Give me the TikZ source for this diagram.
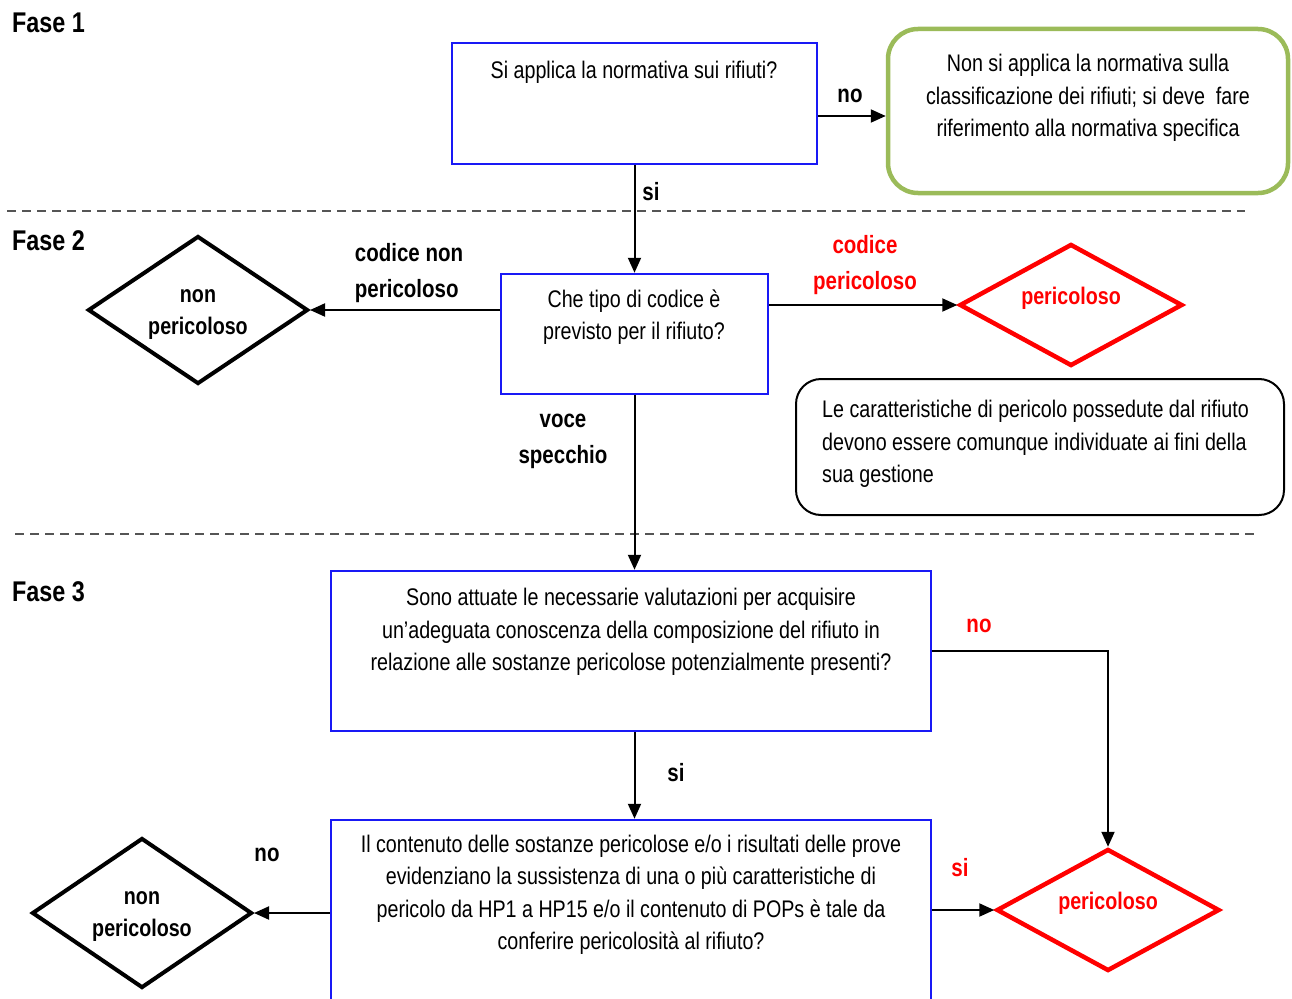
\documentclass[tikz,border=0pt]{standalone}
\usepackage{fontspec}
\setmainfont{Liberation Sans}[FakeStretch=0.82]
\usetikzlibrary{arrows.meta,shapes.geometric}
\definecolor{boxblue}{RGB}{25,25,245}
\definecolor{leaf}{RGB}{155,187,89}
\definecolor{redc}{RGB}{255,0,0}
\definecolor{dashgray}{RGB}{85,85,85}
\begin{document}
\begin{tikzpicture}[x=1pt,y=-1pt,
  qbox/.style={draw=boxblue,line width=2.5pt,rectangle,inner sep=0pt},
  txt/.style={font=\fontsize{24}{32.5}\selectfont,align=center,inner sep=0pt,text=black},
  lbl/.style={font=\bfseries\fontsize{25}{36}\selectfont,align=center,inner sep=0pt},
  dlbl/.style={font=\bfseries\fontsize{24}{32}\selectfont,align=center,inner sep=0pt},
  fase/.style={font=\bfseries\fontsize{28.5}{32}\selectfont,inner sep=0pt,anchor=west},
  blackdia/.style={diamond,draw=black,line width=4pt,inner sep=0pt},
  reddia/.style={diamond,draw=redc,line width=4.5pt,inner sep=0pt},
  arr/.style={draw=black,line width=2pt,-{Triangle[length=15pt,width=13pt]}},
  sep/.style={draw=dashgray,line width=2pt,dash pattern=on 9pt off 6pt}
]
\useasboundingbox (0,0) rectangle (1292,998);
\clip (0,0) rectangle (1292,998);

% phase labels
\node[fase] (f1) at (12,23) {Fase 1};
\node[fase] (f2) at (12,241) {Fase 2};
\node[fase] (f3) at (12,592) {Fase 3};

% separators
\draw[sep] (7,211) -- (1245,211);
\draw[sep] (15,534) -- (1255,534);

% Fase 1
\node[qbox,minimum width=365pt,minimum height=121pt] (b1) at (634.5,103.5) {};
\node[txt] (t1) at (634,72) {Si applica la normativa sui rifiuti?};
\node[draw=leaf,line width=4.5pt,rounded corners=30pt,minimum width=400pt,minimum height=164pt,inner sep=0pt] (g) at (1088,111) {};
\node[txt] (tg) at (1088,98) {Non si applica la normativa sulla\\classificazione dei rifiuti; si deve~ fare\\riferimento alla normativa specifica};
\coordinate (ny) at (0,116);
\draw[arr] (b1.east |- ny) -- (g.west |- ny);
\node[lbl] (lno1) at (850,96) {no};

% Fase 2
\node[qbox,minimum width=267pt,minimum height=120pt] (b2) at (634.5,334) {};
\node[txt] (t2) at (634,317) {Che tipo di codice è\\previsto per il rifiuto?};
\draw[arr] (b1.south) -- (b2.north);
\node[lbl] (lsi1) at (651,192) {si};

\node[blackdia,minimum width=220pt,minimum height=148pt] (nd1) at (198,310) {};
\node[dlbl] (tnd1) at (198,315) {non\\pericoloso};
\draw[arr] (b2.west |- nd1.east) -- (nd1.east);
\node[lbl,align=left] (lcnp) at (409,273) {codice non\\pericoloso};

\node[reddia,minimum width=223pt,minimum height=122pt] (pd1) at (1071,305) {};
\node[dlbl,text=redc] (tpd1) at (1071,298) {pericoloso};
\draw[arr] (b2.east |- pd1.west) -- (pd1.west);
\node[lbl,text=redc] (lcp) at (865,265) {codice\\pericoloso};

\node[draw=black,line width=2pt,rounded corners=25pt,minimum width=488pt,minimum height=136pt,inner sep=0pt] (nb) at (1040,447) {};
\node[txt,align=left,anchor=west] (tnb) at (822,444) {Le caratteristiche di pericolo possedute dal rifiuto\\devono essere comunque individuate ai fini della\\sua gestione};

\node[lbl] (lvs) at (563,441) {voce\\specchio};

% Fase 3
\node[qbox,minimum width=600pt,minimum height=160pt] (b3) at (631,651) {};
\node[txt] (t3) at (631,632) {Sono attuate le necessarie valutazioni per acquisire\\un'adeguata conoscenza della composizione del rifiuto in\\relazione alle sostanze pericolose potenzialmente presenti?};
\draw[arr] (b2.south) -- (b2.south |- b3.north);

\node[qbox,minimum width=600pt,minimum height=190pt] (b4) at (631,915) {};
\node[txt] (t4) at (631,895) {Il contenuto delle sostanze pericolose e/o i risultati delle prove\\evidenziano la sussistenza di una o più caratteristiche di\\pericolo da HP1 a HP15 e/o il contenuto di POPs è tale da\\conferire pericolosità al rifiuto?};
\draw[arr] (b2.south |- b3.south) -- (b2.south |- b4.north);
\node[lbl] (lsi2) at (676,773) {si};

\node[blackdia,minimum width=220pt,minimum height=150pt] (nd2) at (142,913) {};
\node[dlbl] (tnd2) at (142,917) {non\\pericoloso};
\draw[arr] (b4.west |- nd2.east) -- (nd2.east);
\node[lbl] (lno3) at (267,855) {no};

\node[reddia,minimum width=223pt,minimum height=122pt] (pd2) at (1108,910) {};
\node[dlbl,text=redc] (tpd2) at (1108,903) {pericoloso};
\draw[arr] (b4.east |- pd2.west) -- (pd2.west);
\node[lbl,text=redc] (lsi3) at (960,868) {si};

\draw[arr] (b3.east) -- (b3.east -| pd2.north) -- (pd2.north);
\node[lbl,text=redc] (lno2) at (979,626) {no};
\end{tikzpicture}
\end{document}
